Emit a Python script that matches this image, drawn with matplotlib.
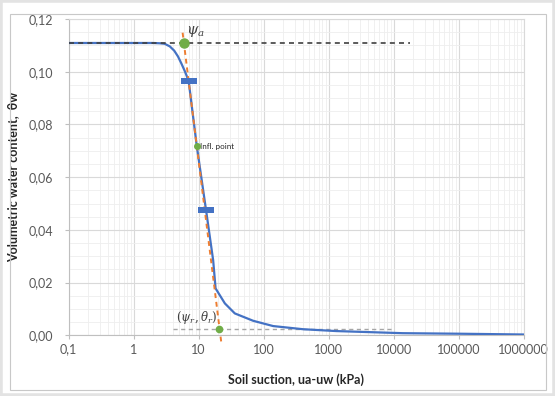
import numpy as np
import matplotlib.pyplot as plt
from matplotlib.patches import Rectangle
from matplotlib.ticker import FixedLocator, FuncFormatter, NullFormatter

plt.rcParams['font.family'] = ['Lato', 'DejaVu Sans']
plt.rcParams['mathtext.fontset'] = 'dejavuserif'

# SWCC curve
suction = [0.1, 0.5, 1, 2, 2.5, 3.0, 3.6, 4.2, 4.8, 5.4, 6.1, 7.0, 9.35, 13.0, 16.7, 18.2,
           25.3, 36, 69, 140, 405, 1320, 13800, 100000, 1000000]
theta = [0.1109, 0.1109, 0.1109, 0.1109, 0.1108, 0.1106, 0.1096, 0.1080, 0.1058, 0.1032,
         0.1003, 0.0966, 0.0718, 0.0474, 0.0285, 0.0178,
         0.0121, 0.0083, 0.0055, 0.0035, 0.0023, 0.0016, 0.0008, 0.0006, 0.0003]

# tangent through the inflection point
tan_x = [5.66, 22.2]
tan_y = [0.1148, -0.0024]

# saturated / residual levels
sat_x = [0.1, 18000]
sat_y = [0.1109, 0.1109]
res_x = [4.0, 10000]
res_y = [0.0023, 0.0023]

# special points
psi_a = (6.0, 0.1109)
infl = (9.35, 0.0718)
psi_r = (20.5, 0.0023)
bars_x = [7.0, 13.0]
bars_y = [0.0966, 0.0474]

x_ticks = [0.1, 1, 10, 100, 1000, 10000, 100000, 1000000]
x_labels = ['0,1', '1', '10', '100', '1000', '10000', '100000', '1000000']
y_ticks = [0.0, 0.02, 0.04, 0.06, 0.08, 0.10, 0.12]

fig = plt.figure(figsize=(5.55, 3.96), dpi=100)
fig.patch.set_facecolor('white')
fig.add_artist(Rectangle((0, 0), 1, 1, transform=fig.transFigure, fill=False,
                         edgecolor='#e3e3e3', linewidth=4))
fig.add_artist(Rectangle((0.018, 0.0152), 0.9658, 0.9494, transform=fig.transFigure,
                         fill=False, edgecolor='#c8c8c8', linewidth=0.8))

ax = fig.add_axes([0.1238, 0.1533, 0.8196, 0.7987])
ax.set_xscale('log')
ax.set_xlim(0.1, 1000000)
ax.set_ylim(0, 0.12)

ax.grid(True, which='major', color='#d9d9d9', linewidth=0.8)
ax.grid(True, which='minor', color='#eeeeee', linewidth=0.6)
ax.set_axisbelow(True)

ax.xaxis.set_major_locator(FixedLocator(x_ticks))
ax.xaxis.set_major_formatter(FuncFormatter(lambda v, p: x_labels[x_ticks.index(v)] if v in x_ticks else ''))
ax.xaxis.set_minor_formatter(NullFormatter())
ax.yaxis.set_major_locator(FixedLocator(y_ticks))
ax.yaxis.set_minor_locator(FixedLocator(np.arange(0, 0.1201, 0.005)))
ax.yaxis.set_major_formatter(FuncFormatter(lambda v, p: ('%.2f' % v).replace('.', ',')))

ax.tick_params(which='minor', length=0)
ax.tick_params(axis='y', which='major', length=3, width=0.8, color='#bfbfbf', pad=8,
               labelsize=9, labelcolor='#595959')
ax.tick_params(axis='x', which='major', length=3, width=0.8, color='#bfbfbf', pad=3,
               labelsize=9, labelcolor='#595959')
for s in ax.spines.values():
    s.set_color('#d9d9d9')
    s.set_linewidth(0.8)
ax.spines['left'].set_color('#bfbfbf')
ax.spines['bottom'].set_color('#bfbfbf')

ax.plot(suction, theta, color='#4472c4', linewidth=1.6, zorder=4)
ax.plot(sat_x, sat_y, color='#404040', linestyle=(0, (3, 2.5)), linewidth=1.2, zorder=5)
ax.plot(res_x, res_y, color='#a6a6a6', linestyle=(0, (3, 2.5)), linewidth=1.0, zorder=3)
ax.plot(tan_x, tan_y, color='#ed7d31', linestyle=(0, (2.5, 2)), linewidth=1.4, zorder=5,
        clip_on=False)

bar = [(-1, -0.31), (1, -0.31), (1, 0.31), (-1, 0.31), (-1, -0.31)]
ax.plot(bars_x, bars_y, linestyle='none', marker=bar, markersize=12,
        color='#4472c4', markeredgewidth=0, zorder=6)

ax.plot(*psi_a, 'o', color='#70ad47', markersize=6.5, zorder=7)
ax.plot(*infl, 'o', color='#70ad47', markersize=4, zorder=7)
ax.plot(*psi_r, 'o', color='#70ad47', markersize=4.5, zorder=7)

ax.text(6.4, 0.1124, r'$\psi_a$', fontsize=10.5, color='#404040', va='bottom', ha='left')
ax.text(10.6, 0.0718, 'Infl. point', fontsize=5.8, color='#262626', va='center', ha='left')
ax.text(9.4, 0.0066, r'$(\psi_r,\theta_r)$', fontsize=8.5, color='#404040', va='center', ha='center')

ax.set_xlabel('Soil suction, ua-uw (kPa)', fontsize=9, fontweight='bold', color='#262626',
              labelpad=13)
ax.set_ylabel('Volumetric water content,  θw', fontsize=9, fontweight='bold', color='#262626',
              labelpad=7)

plt.savefig('out.png', dpi=100)
